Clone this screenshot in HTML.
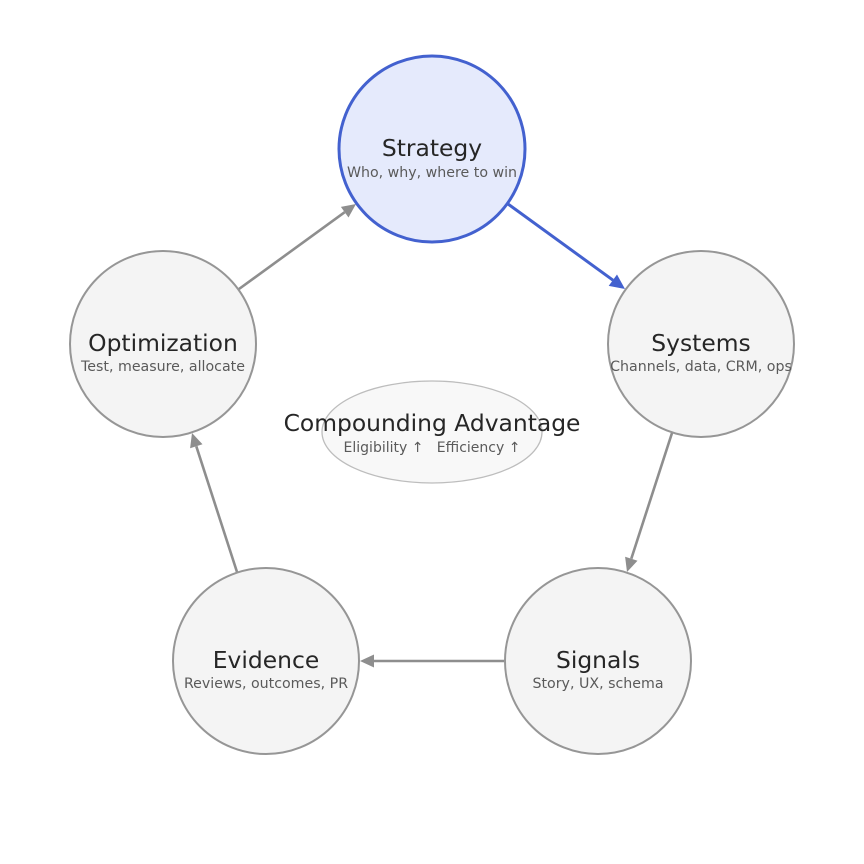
<!DOCTYPE html>
<html>
<head>
<meta charset="utf-8">
<style>
  html,body{margin:0;padding:0;background:#ffffff;}
  svg{display:block;}
  text{font-family:"DejaVu Sans","Liberation Sans",sans-serif;}
</style>
</head>
<body>
<svg width="864" height="864" viewBox="0 0 864 864" xmlns="http://www.w3.org/2000/svg">
  <rect width="864" height="864" fill="#ffffff"/>

  <!-- connectors -->
  <g stroke="#8e8e8e" stroke-width="2.6" fill="none" stroke-linecap="butt">
    <line x1="672" y1="433" x2="631.3" y2="558.7"/>
    <line x1="504" y1="661" x2="374" y2="661"/>
    <line x1="237" y1="572" x2="196.3" y2="446.3"/>
    <line x1="239" y1="289" x2="344.7" y2="212.2"/>
  </g>
  <line x1="508" y1="204" x2="613" y2="280.2" stroke="#4361cf" stroke-width="3"/>

  <!-- arrowheads -->
  <polygon points="625,289 608.7,285.9 617,274.5" fill="#4361cf"/>
  <g fill="#8e8e8e">
    <polygon points="627,572 625.1,556.7 637.5,560.7"/>
    <polygon points="360,661 374,654.5 374,667.5"/>
    <polygon points="192,433 202.5,444.3 190.1,448.3"/>
    <polygon points="356,204 348.5,217.5 340.9,206.9"/>
  </g>

  <!-- center ellipse -->
  <ellipse cx="432" cy="432" rx="110" ry="51" fill="#f8f8f8" stroke="#bdbdbd" stroke-width="1.3"/>
  <text x="432" y="431" text-anchor="middle" font-size="23.4" fill="#262626">Compounding Advantage</text>
  <text x="432" y="452" text-anchor="middle" font-size="14" fill="#5a5a5a" xml:space="preserve">Eligibility ↑   Efficiency ↑</text>

  <!-- Strategy -->
  <circle cx="432" cy="149" r="93" fill="#e5eafc" stroke="#4361cf" stroke-width="3"/>
  <text x="432" y="156" text-anchor="middle" font-size="23.4" fill="#262626">Strategy</text>
  <text x="432" y="177" text-anchor="middle" font-size="14.2" fill="#5a5a5a">Who, why, where to win</text>

  <!-- Systems -->
  <circle cx="701" cy="344" r="93" fill="#f4f4f4" stroke="#969696" stroke-width="2"/>
  <text x="701" y="351" text-anchor="middle" font-size="23.4" fill="#262626">Systems</text>
  <text x="701" y="371" text-anchor="middle" font-size="14.2" fill="#5a5a5a">Channels, data, CRM, ops</text>

  <!-- Signals -->
  <circle cx="598" cy="661" r="93" fill="#f4f4f4" stroke="#969696" stroke-width="2"/>
  <text x="598" y="668" text-anchor="middle" font-size="23.4" fill="#262626">Signals</text>
  <text x="598" y="688" text-anchor="middle" font-size="14.2" fill="#5a5a5a">Story, UX, schema</text>

  <!-- Evidence -->
  <circle cx="266" cy="661" r="93" fill="#f4f4f4" stroke="#969696" stroke-width="2"/>
  <text x="266" y="668" text-anchor="middle" font-size="23.4" fill="#262626">Evidence</text>
  <text x="266" y="688" text-anchor="middle" font-size="14.2" fill="#5a5a5a">Reviews, outcomes, PR</text>

  <!-- Optimization -->
  <circle cx="163" cy="344" r="93" fill="#f4f4f4" stroke="#969696" stroke-width="2"/>
  <text x="163" y="351" text-anchor="middle" font-size="23.4" fill="#262626">Optimization</text>
  <text x="163" y="371" text-anchor="middle" font-size="14.2" fill="#5a5a5a">Test, measure, allocate</text>
</svg>
</body>
</html>
